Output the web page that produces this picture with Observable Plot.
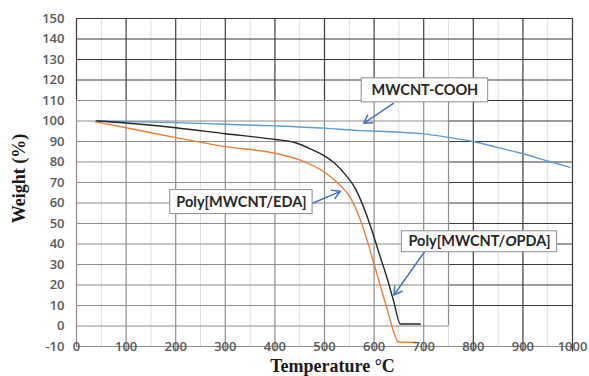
<!DOCTYPE html>
<html>
<head>
<meta charset="utf-8">
<script src="https://cdn.jsdelivr.net/npm/d3@7"></script>
<script src="https://cdn.jsdelivr.net/npm/@observablehq/plot@0.6"></script>
<style>
  html, body { margin: 0; padding: 0; background: #fff; }
  #chart svg { display: block; }
</style>
</head>
<body>
<div id="chart"></div>
<script>
// ---- Data ----
const coohTemp = [40, 100, 200, 300, 400, 500, 572, 612, 700, 750, 800, 850, 900, 950, 995];
const coohWeight = [100, 99.7, 99.2, 98.4, 97.6, 96.5, 95.3, 95.0, 93.7, 92, 90, 87, 84, 80.5, 77.4];

const opdaTemp = [40, 100, 200, 300, 400, 440, 475, 500, 520, 545, 560, 572, 585, 599, 612, 626, 639, 653, 693];
const opdaWeight = [100, 99, 96.7, 93.8, 91, 89.5, 86, 83, 79.5, 73, 68, 62, 54, 44, 34, 23.5, 12.5, 1, 1];

const edaTemp = [38, 100, 200, 300, 400, 450, 500, 530, 550, 572, 585, 599, 612, 626, 639, 649, 686];
const edaWeight = [99.6, 96.7, 91.9, 87.5, 84.3, 81, 75, 69, 63.5, 52, 42.5, 31, 20, 8.5, -2.5, -7.8, -8];

const seriesNames = ["MWCNT-COOH", "Poly[MWCNT/OPDA]", "Poly[MWCNT/EDA]"];
const seriesColors = ["#5b9bd5", "#262626", "#ed7d31"];

const xTicks = [0, 100, 200, 300, 400, 500, 600, 700, 800, 900, 1000];
const xMinor = [50, 150, 250, 350, 450, 550, 650, 750, 850, 950];
const yTicks = [-10, 0, 10, 20, 30, 40, 50, 60, 70, 80, 90, 100, 110, 120, 130, 140, 150];

// annotation labels (box bounds + arrow in data units)
const labelTexts = ["MWCNT-COOH", "Poly[MWCNT/EDA]", "Poly[MWCNT/OPDA]"];
const labelBoxes = [
  {x1: 575, x2: 830, y1: 109.1, y2: 120.8},
  {x1: 189, x2: 476, y1: 54.6, y2: 66.3},
  {x1: 656, x2: 969, y1: 36.0, y2: 46.2}
];
const labelArrows = [
  {x1: 639, y1: 108.6, x2: 579, y2: 98.9},
  {x1: 476, y1: 59.9, x2: 532, y2: 65.7},
  {x1: 701, y1: 36.0, x2: 640, y2: 15.1}
];

// ---- Build tables ----
function table(name, xs, ys) { return xs.map((t, i) => ({series: name, t, w: ys[i]})); }
const lines = [
  ...table(seriesNames[0], coohTemp, coohWeight),
  ...table(seriesNames[1], opdaTemp, opdaWeight),
  ...table(seriesNames[2], edaTemp, edaWeight)
];
const labels = labelTexts.map((text, i) => ({text, ...labelBoxes[i]}));
const arrows = labelArrows;

const GRAY = "#8c8c8c";
const BLACK = "#3a3a3a";
const tickFont = "'Open Sans', sans-serif";
const labelFont = "Lato, 'Open Sans', sans-serif";
const serif = "'Liberation Serif', 'DejaVu Serif', serif";

const plot = Plot.plot({
  width: 589,
  height: 376,
  marginLeft: 76,
  marginRight: 17,
  marginTop: 18,
  marginBottom: 30,
  x: {domain: [0, 1000], axis: null},
  y: {domain: [-10, 150], axis: null},
  color: {domain: seriesNames, range: seriesColors},
  style: {fontFamily: tickFont, background: "#fff"},
  marks: [
    // minor vertical gridlines
    Plot.ruleX(xMinor, {y1: -10, y2: 150, stroke: "#dedede", strokeWidth: 1}),
    // black horizontal gridlines (outer grid)
    Plot.ruleY(yTicks.filter(v => v >= 10), {x1: v => (v <= 110 ? 750 : 0), x2: 1000, stroke: BLACK, strokeWidth: 1.2}),
    // gray horizontal gridlines (inner panel)
    Plot.ruleY(yTicks.filter(v => v >= 0 && v <= 110), {x1: 0, x2: 750, stroke: GRAY, strokeWidth: 1.2}),
    // vertical major lines: upper black part
    Plot.ruleX(xTicks.filter(v => v <= 700), {y1: 110, y2: 150, stroke: BLACK, strokeWidth: 1.2}),
    // vertical major lines: lower gray part (extending through axis as ticks)
    Plot.ruleX(xTicks.filter(v => v <= 700 && v > 0), {y1: -12.7, y2: 110, stroke: GRAY, strokeWidth: 1.2}),
    Plot.ruleX([0], {y1: -10, y2: 110, stroke: GRAY, strokeWidth: 1.2}),
    // vertical major lines right of the inner panel: black full height
    Plot.ruleX(xTicks.filter(v => v > 700), {y1: -12.7, y2: 150, stroke: BLACK, strokeWidth: 1.2}),
    // inner panel right border
    Plot.ruleX([750], {y1: 0, y2: 110, stroke: GRAY, strokeWidth: 1.2}),
    // x axis line
    Plot.ruleY([-10], {x1: 0, x2: 1000, stroke: GRAY, strokeWidth: 1.2}),
    // data lines
    Plot.line(lines, {x: "t", y: "w", z: "series", stroke: "series", strokeWidth: 1.4, curve: "monotone-x"}),
    // arrows
    Plot.arrow(arrows, {x1: "x1", y1: "y1", x2: "x2", y2: "y2", stroke: "#4472c4", strokeWidth: 1.5, headLength: 9}),
    // label boxes
    Plot.rect(labels, {x1: "x1", x2: "x2", y1: "y1", y2: "y2", fill: "#fff", stroke: "#8c8c8c", strokeWidth: 1}),
    Plot.text(labels, {x: d => (d.x1 + d.x2) / 2, y: d => (d.y1 + d.y2) / 2, text: "text", fontSize: 14.5, fontWeight: "bold", fill: "#262626", fontFamily: labelFont}),
    // tick labels
    Plot.text(xTicks, {x: d => d, y: -10, text: d => String(d), fontSize: 13, fontWeight: 600, fill: "#595959", fontFamily: tickFont}),
    Plot.text(yTicks, {x: 0, y: d => d, text: d => String(d), dx: -12, textAnchor: "end", fontSize: 13, fontWeight: 600, fill: "#595959", fontFamily: tickFont}),
    // axis titles
    Plot.text(["Temperature °C"], {frameAnchor: "bottom", textAnchor: "middle", lineAnchor: "middle", dy: 20, dx: 8, text: d => d, fontSize: 18, fontWeight: "bold", fill: "#1a1a1a", fontFamily: serif}),
    Plot.text(["Weight (%)"], {frameAnchor: "left", textAnchor: "middle", lineAnchor: "middle", dx: -57, dy: -4, rotate: -90, text: d => d, fontSize: 18, fontWeight: "bold", fill: "#1a1a1a", fontFamily: serif})
  ]
});

// italic "O" in OPDA label
d3.select(plot).selectAll("text").filter(function () { return this.textContent === "Poly[MWCNT/OPDA]"; })
  .each(function () {
    const t = d3.select(this);
    t.text(null);
    t.append("tspan").text("Poly[MWCNT/");
    t.append("tspan").attr("font-style", "italic").attr("font-family", "'Liberation Sans', 'DejaVu Sans', sans-serif").text("O");
    t.append("tspan").text("PDA]");
  });

document.getElementById("chart").appendChild(plot);
</script>
</body>
</html>
